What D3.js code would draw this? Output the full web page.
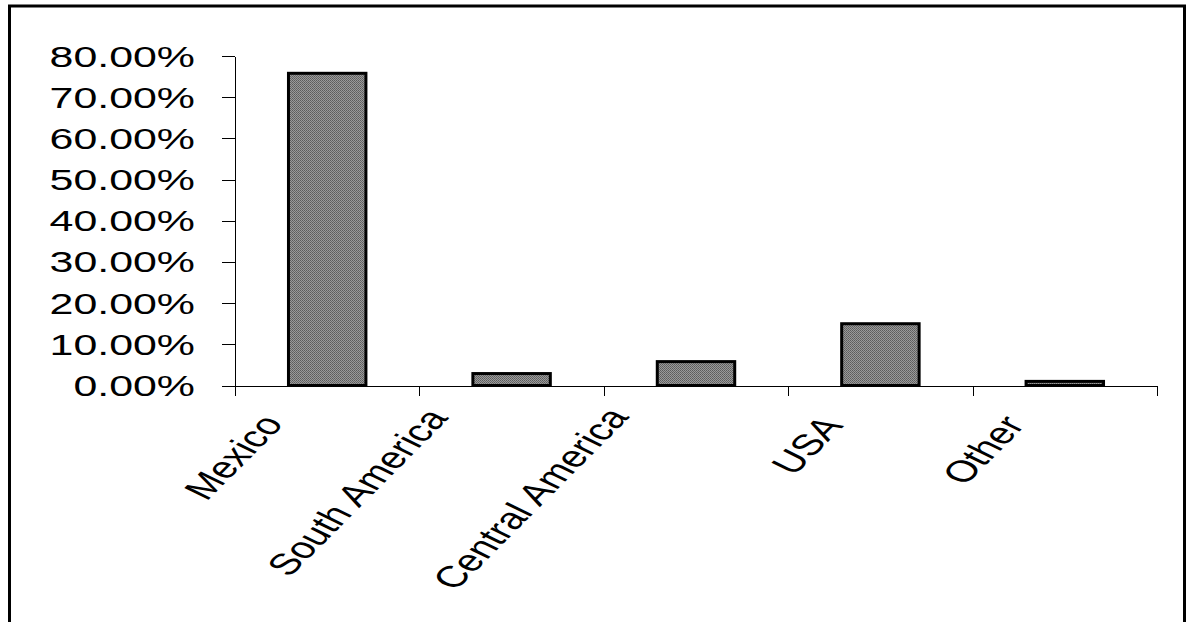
<!DOCTYPE html>
<html>
<head>
<meta charset="utf-8">
<script src="https://cdn.jsdelivr.net/npm/d3@7"></script>
<style>
  body { margin: 0; background: #fff; }
  svg { display: block; }
  .axis path, .axis line { stroke: #000; stroke-width: 1; shape-rendering: crispEdges; }
  .axis text { font-family: "Liberation Sans", Arial, sans-serif; font-size: 30px; fill: #000; }
</style>
</head>
<body>
<div class="svg-container"></div>
<script>
// data
const regions = ['Mexico', 'South America', 'Central America', 'USA', 'Other'];
const shares = [0.758, 0.029, 0.058, 0.150, 0.010];
const yTicks = [0, 0.1, 0.2, 0.3, 0.4, 0.5, 0.6, 0.7, 0.8];

const data = regions.map((r, i) => ({ region: r, share: shares[i] }));

// page size + plot box
const W = 1189, H = 622;
const plot = { left: 235, right: 1157, top: 56, bottom: 385.5 };
const stretch = 1.43;   // the labels in the scan are wide

const svg = d3.select('.svg-container')
  .append('svg')
  .attr('width', W)
  .attr('height', H);

// halftone-ish fill for the bars
const defs = svg.append('defs');
const pat = defs.append('pattern')
  .attr('id', 'dots')
  .attr('width', 2).attr('height', 2)
  .attr('patternUnits', 'userSpaceOnUse');
pat.append('rect').attr('width', 2).attr('height', 2).attr('fill', '#9a9a9a');
pat.append('rect').attr('width', 1).attr('height', 1).attr('fill', '#5c5c5c');
pat.append('rect').attr('x', 1).attr('y', 1).attr('width', 1).attr('height', 1).attr('fill', '#686868');

// outer frame (bottom edge runs off the page)
svg.append('rect')
  .attr('x', 9.5).attr('y', 6)
  .attr('width', 1175).attr('height', 700)
  .attr('fill', 'none')
  .attr('stroke', '#000')
  .attr('stroke-width', 3);

const yScale = d3.scaleLinear()
  .domain([0, 0.8])
  .range([plot.bottom, plot.top]);

const xScale = d3.scaleBand()
  .domain(regions)
  .range([plot.left, plot.right])
  .paddingInner(0.58)
  .paddingOuter(0.29);

// category boundaries for the x ticks
const edgeScale = d3.scaleLinear()
  .domain([0, regions.length])
  .range([plot.left, plot.right]);

// y axis
const yAxis = d3.axisLeft(yScale)
  .tickValues(yTicks)
  .tickFormat(d3.format('.2%'))
  .tickSizeInner(13)
  .tickSizeOuter(0)
  .tickPadding(0);

const yAxisDraw = svg.append('g')
  .attr('class', 'y axis')
  .attr('transform', `translate(${plot.left},0)`)
  .call(yAxis);

yAxisDraw.selectAll('text')
  .attr('x', null)
  .attr('dy', null)
  .attr('transform', `translate(-40,10) scale(${stretch},1)`);

// bars
svg.selectAll('.bar')
  .data(data)
  .enter()
  .append('rect')
  .attr('class', 'bar')
  .attr('x', d => xScale(d.region))
  .attr('y', d => yScale(d.share))
  .attr('width', xScale.bandwidth())
  .attr('height', d => plot.bottom - yScale(d.share))
  .attr('fill', 'url(#dots)')
  .attr('stroke', '#000')
  .attr('stroke-width', 3);

// x axis: line + boundary ticks
const xAxis = d3.axisBottom(edgeScale)
  .tickValues(d3.range(regions.length + 1))
  .tickFormat('')
  .tickSizeInner(10)
  .tickSizeOuter(0);

svg.append('g')
  .attr('class', 'x axis')
  .attr('transform', `translate(0,${plot.bottom})`)
  .call(xAxis);

// rotated category labels
const labels = svg.append('g')
  .attr('class', 'x axis labels')
  .selectAll('text')
  .data(regions)
  .enter()
  .append('text')
  .attr('text-anchor', 'end')
  .text(d => d);

labels.attr('transform', function(d) {
  const len = this.getComputedTextLength() * 1.16;
  const cx = xScale(d) + xScale.bandwidth() / 2;
  const ex = cx - (24 + 0.17 * len);
  const ey = plot.bottom + 44 - 0.05 * len;
  return `translate(${ex},${ey}) scale(${stretch},1) rotate(-55)`;
});
</script>
</body>
</html>
